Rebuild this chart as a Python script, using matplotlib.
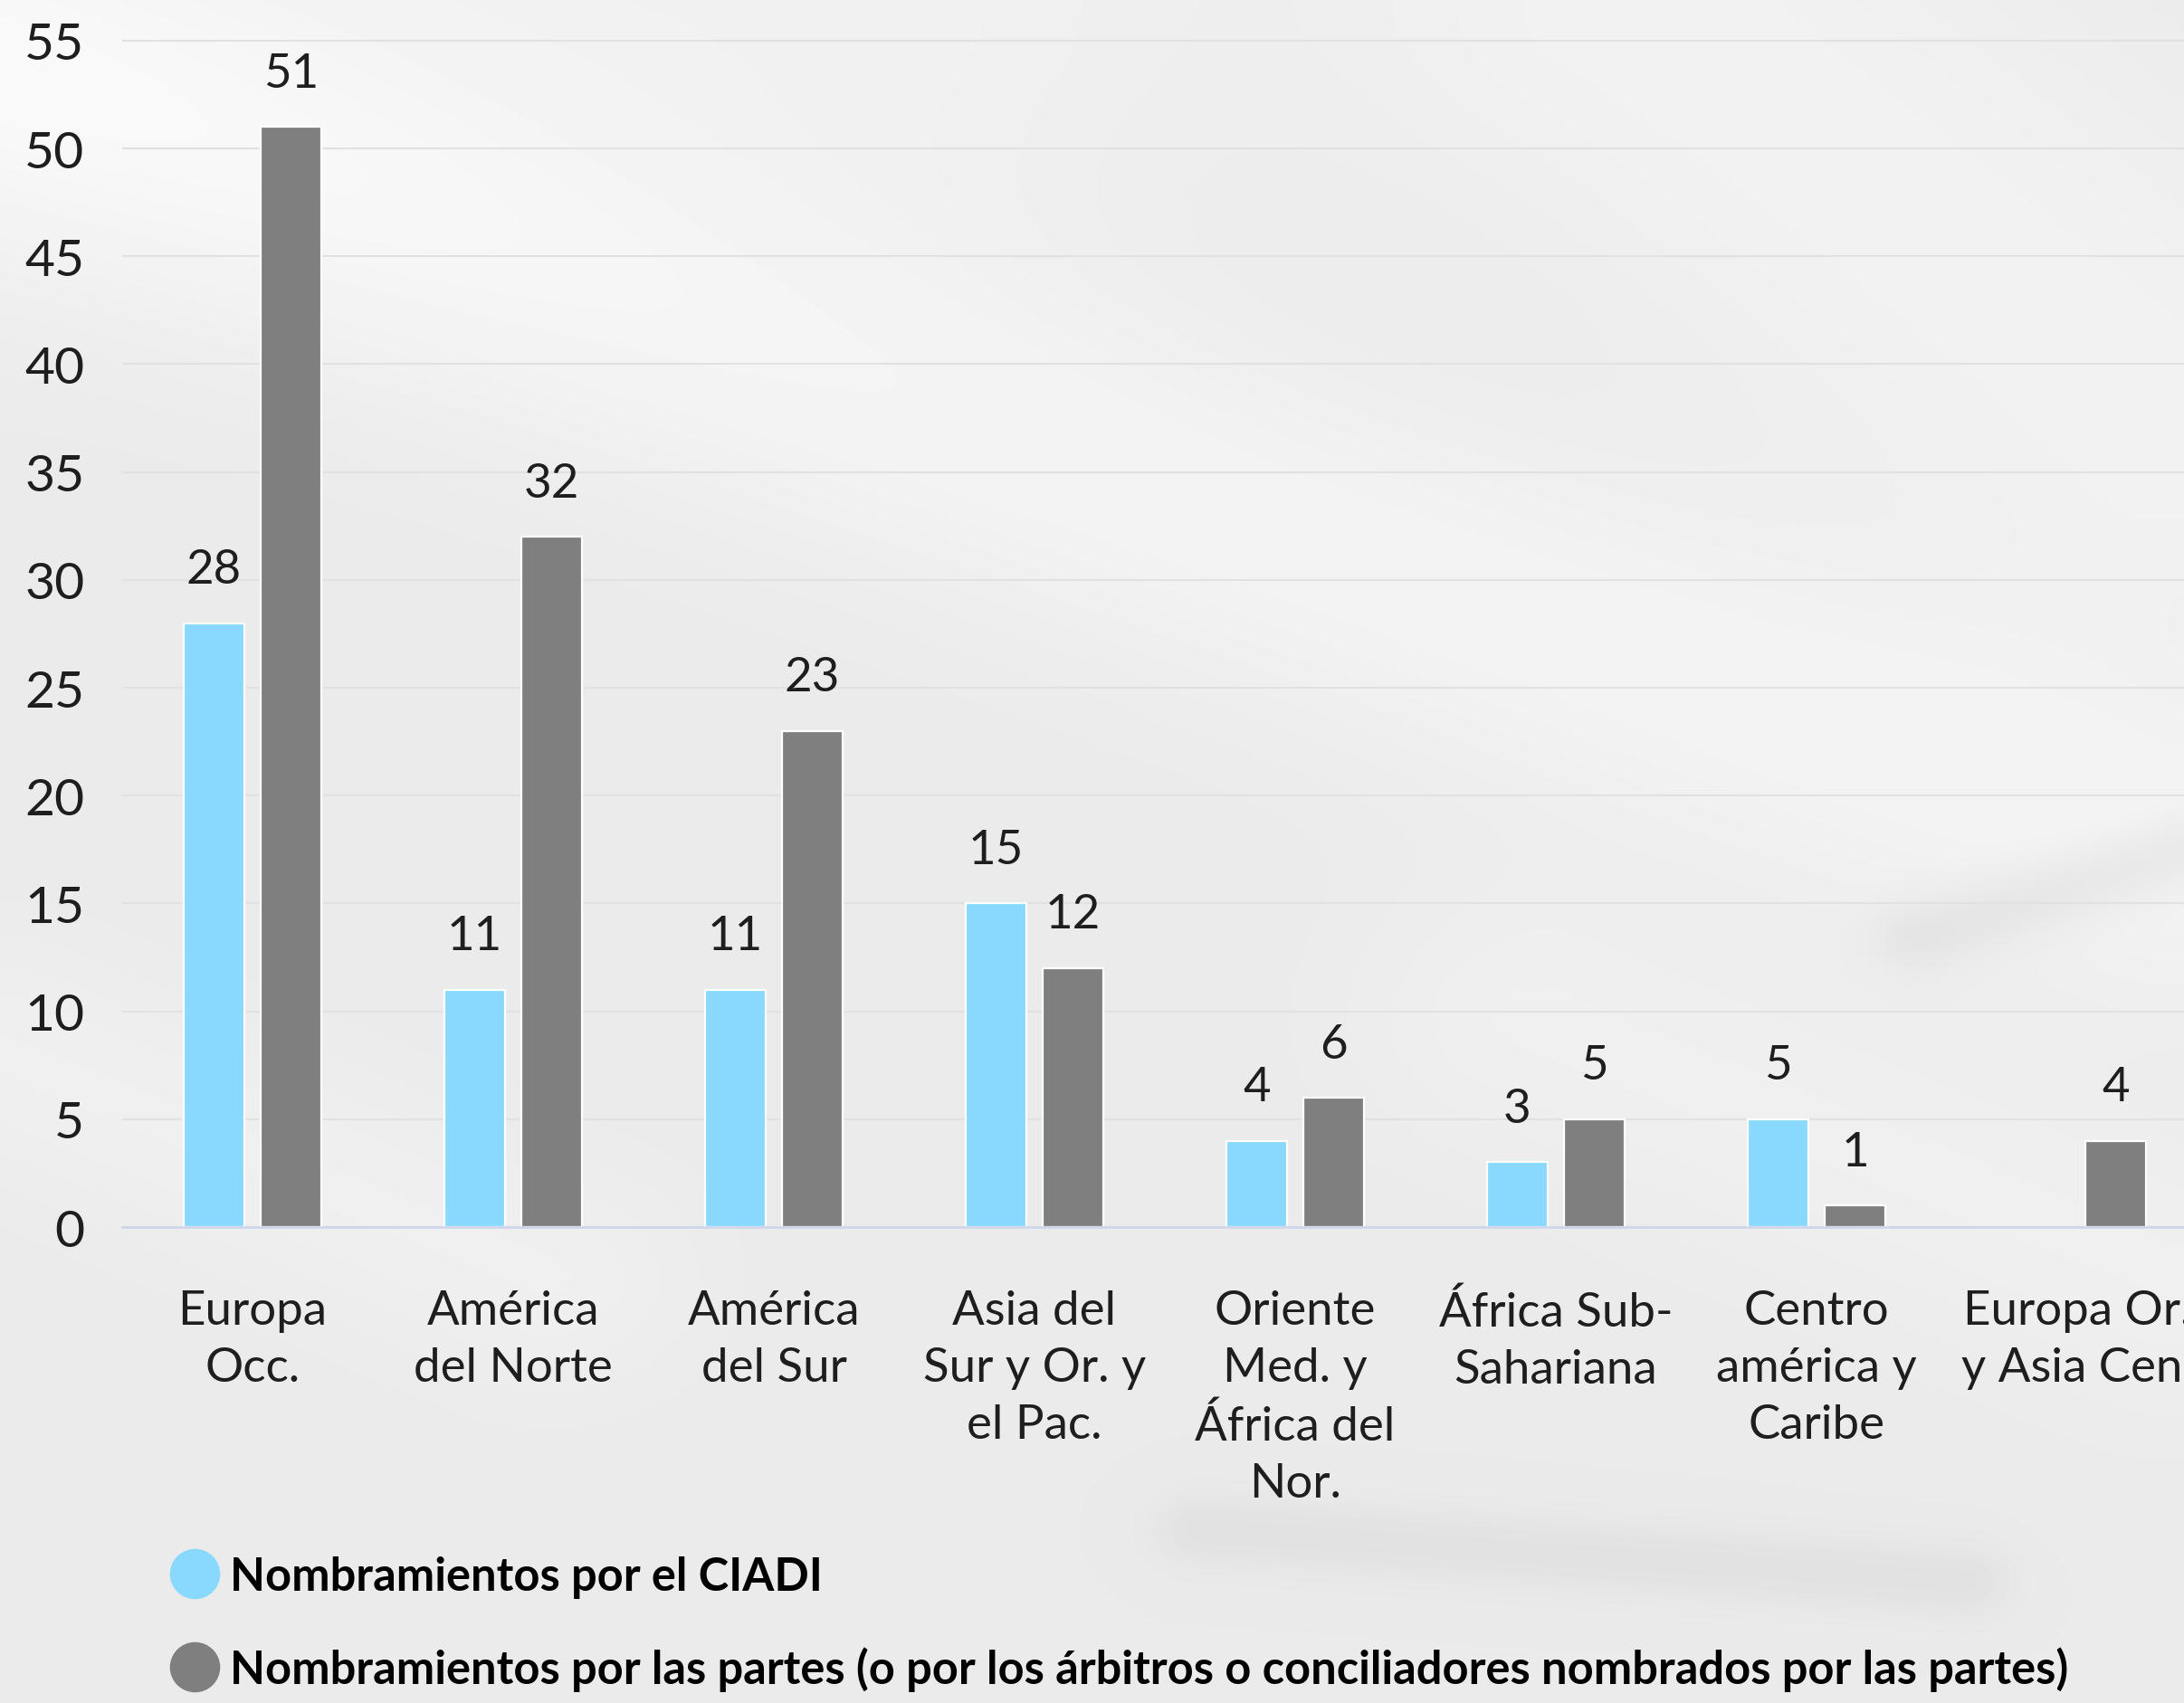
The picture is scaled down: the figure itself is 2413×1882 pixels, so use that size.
import matplotlib
matplotlib.use("Agg")
import matplotlib.pyplot as plt
from matplotlib.lines import Line2D
import numpy as np

categories = [
    "Europa\nOcc.",
    "América\ndel Norte",
    "América\ndel Sur",
    "Asia del\nSur y Or. y\nel Pac.",
    "Oriente\nMed. y\nÁfrica del\nNor.",
    "África Sub-\nSahariana",
    "Centro\namérica y\nCaribe",
    "Europa Or.\ny Asia Cen.",
]
ciadi = [28, 11, 11, 15, 4, 3, 5, None]
partes = [51, 32, 23, 12, 6, 5, 1, 4]
y_ticks = [0, 5, 10, 15, 20, 25, 30, 35, 40, 45, 50, 55]

legend_labels = [
    "Nombramientos por el CIADI",
    "Nombramientos por las partes (o por los árbitros o conciliadores nombrados por las partes)",
]

CYAN = "#89d9ff"
GRAY = "#7f7f7f"
BG = "#ebebeb"
TXT = "#1e1e1e"

W, H = 2413, 1883
fig = plt.figure(figsize=(W / 100, H / 100), dpi=100, facecolor=BG)


def streak(u, v, p0, p1, width):
    # soft gaussian around the segment p0-p1
    p0, p1 = np.array(p0), np.array(p1)
    d = p1 - p0
    t = np.clip(((u - p0[0]) * d[0] + (v - p0[1]) * d[1]) / (d @ d), 0, 1)
    dist2 = (u - p0[0] - t * d[0]) ** 2 + (v - p0[1] - t * d[1]) ** 2
    return np.exp(-dist2 / (2 * width ** 2))


# soft background (decoration only)
u, v = np.meshgrid(np.linspace(0, 1, 400), np.linspace(0, 1, 320))
shade = np.full(u.shape, 0.918)
shade += 0.035 * streak(u, v, (0.0, 0.05), (1.0, 0.50), 0.07)
shade += 0.025 * streak(u, v, (0.0, 0.0), (0.4, 0.0), 0.12)
shade += 0.030 * streak(u, v, (0.75, 0.0), (1.0, 0.25), 0.10)
shade += 0.020 * streak(u, v, (0.0, 0.62), (0.25, 0.75), 0.05)
shade -= 0.040 * streak(u, v, (0.88, 0.55), (1.0, 0.50), 0.015)
shade -= 0.035 * streak(u, v, (0.55, 0.90), (0.90, 0.93), 0.015)
shade += 0.020 * streak(u, v, (0.7, 0.60), (1.0, 0.75), 0.06)
bg = fig.add_axes([0, 0, 1, 1], zorder=-10)
bg.imshow(shade, cmap="gray", vmin=0, vmax=1, aspect="auto", extent=(0, 1, 1, 0),
          interpolation="bilinear")
bg.set_axis_off()

ax = fig.add_axes([135 / W, 1 - 1357 / H, 2304 / W, 1335 / H])
ax.set_facecolor("none")

x = np.arange(len(categories))
width = 0.232
off = 0.1476

ciadi_vals = [np.nan if v is None else v for v in ciadi]
ax.bar(x - off, ciadi_vals, width, color=CYAN, edgecolor="white", linewidth=1.6, zorder=3)
ax.bar(x + off, partes, width, color=GRAY, edgecolor="white", linewidth=1.6, zorder=3)

label_font = dict(family="Lato", weight="normal", size=38, color=TXT)
for xi, val in zip(x - off, ciadi):
    if val is not None:
        ax.annotate(str(val), (xi, val), xytext=(0, 32), textcoords="offset points",
                    ha="center", va="baseline", **label_font)
for xi, val in zip(x + off, partes):
    ax.annotate(str(val), (xi, val), xytext=(0, 32), textcoords="offset points",
                ha="center", va="baseline", **label_font)

ax.set_xlim(-0.5, len(categories) - 0.5)
ax.set_ylim(0, 56)
ax.set_yticks(y_ticks)
ax.set_xticks(x)
ax.set_xticklabels(categories, linespacing=1.42, **label_font)
for t in ax.get_yticklabels():
    t.set_fontfamily("Lato")
    t.set_fontsize(41)
    t.set_color(TXT)
ax.tick_params(axis="both", length=0)
ax.tick_params(axis="y", pad=30)
ax.tick_params(axis="x", pad=50)

ax.grid(axis="y", color="#e1e1e1", linewidth=1.5, zorder=0)
for s in ["top", "right", "left"]:
    ax.spines[s].set_visible(False)
ax.spines["bottom"].set_color("#cdd6ea")
ax.spines["bottom"].set_linewidth(2)
ax.spines["bottom"].set_zorder(4)

handles = [
    Line2D([], [], marker="o", linestyle="", markersize=40, markerfacecolor=CYAN, markeredgecolor="none"),
    Line2D([], [], marker="o", linestyle="", markersize=40, markerfacecolor=GRAY, markeredgecolor="none"),
]
fig.legend(handles, legend_labels, loc="upper left", bbox_to_anchor=(198 / W, 1 - 1720 / H),
           frameon=False, handlelength=0.68, handletextpad=0.42, labelspacing=1.05,
           borderpad=0, borderaxespad=0,
           prop=dict(family="Lato", weight="bold", size=36.4))

fig.savefig("out.png", dpi=100, facecolor=BG)
